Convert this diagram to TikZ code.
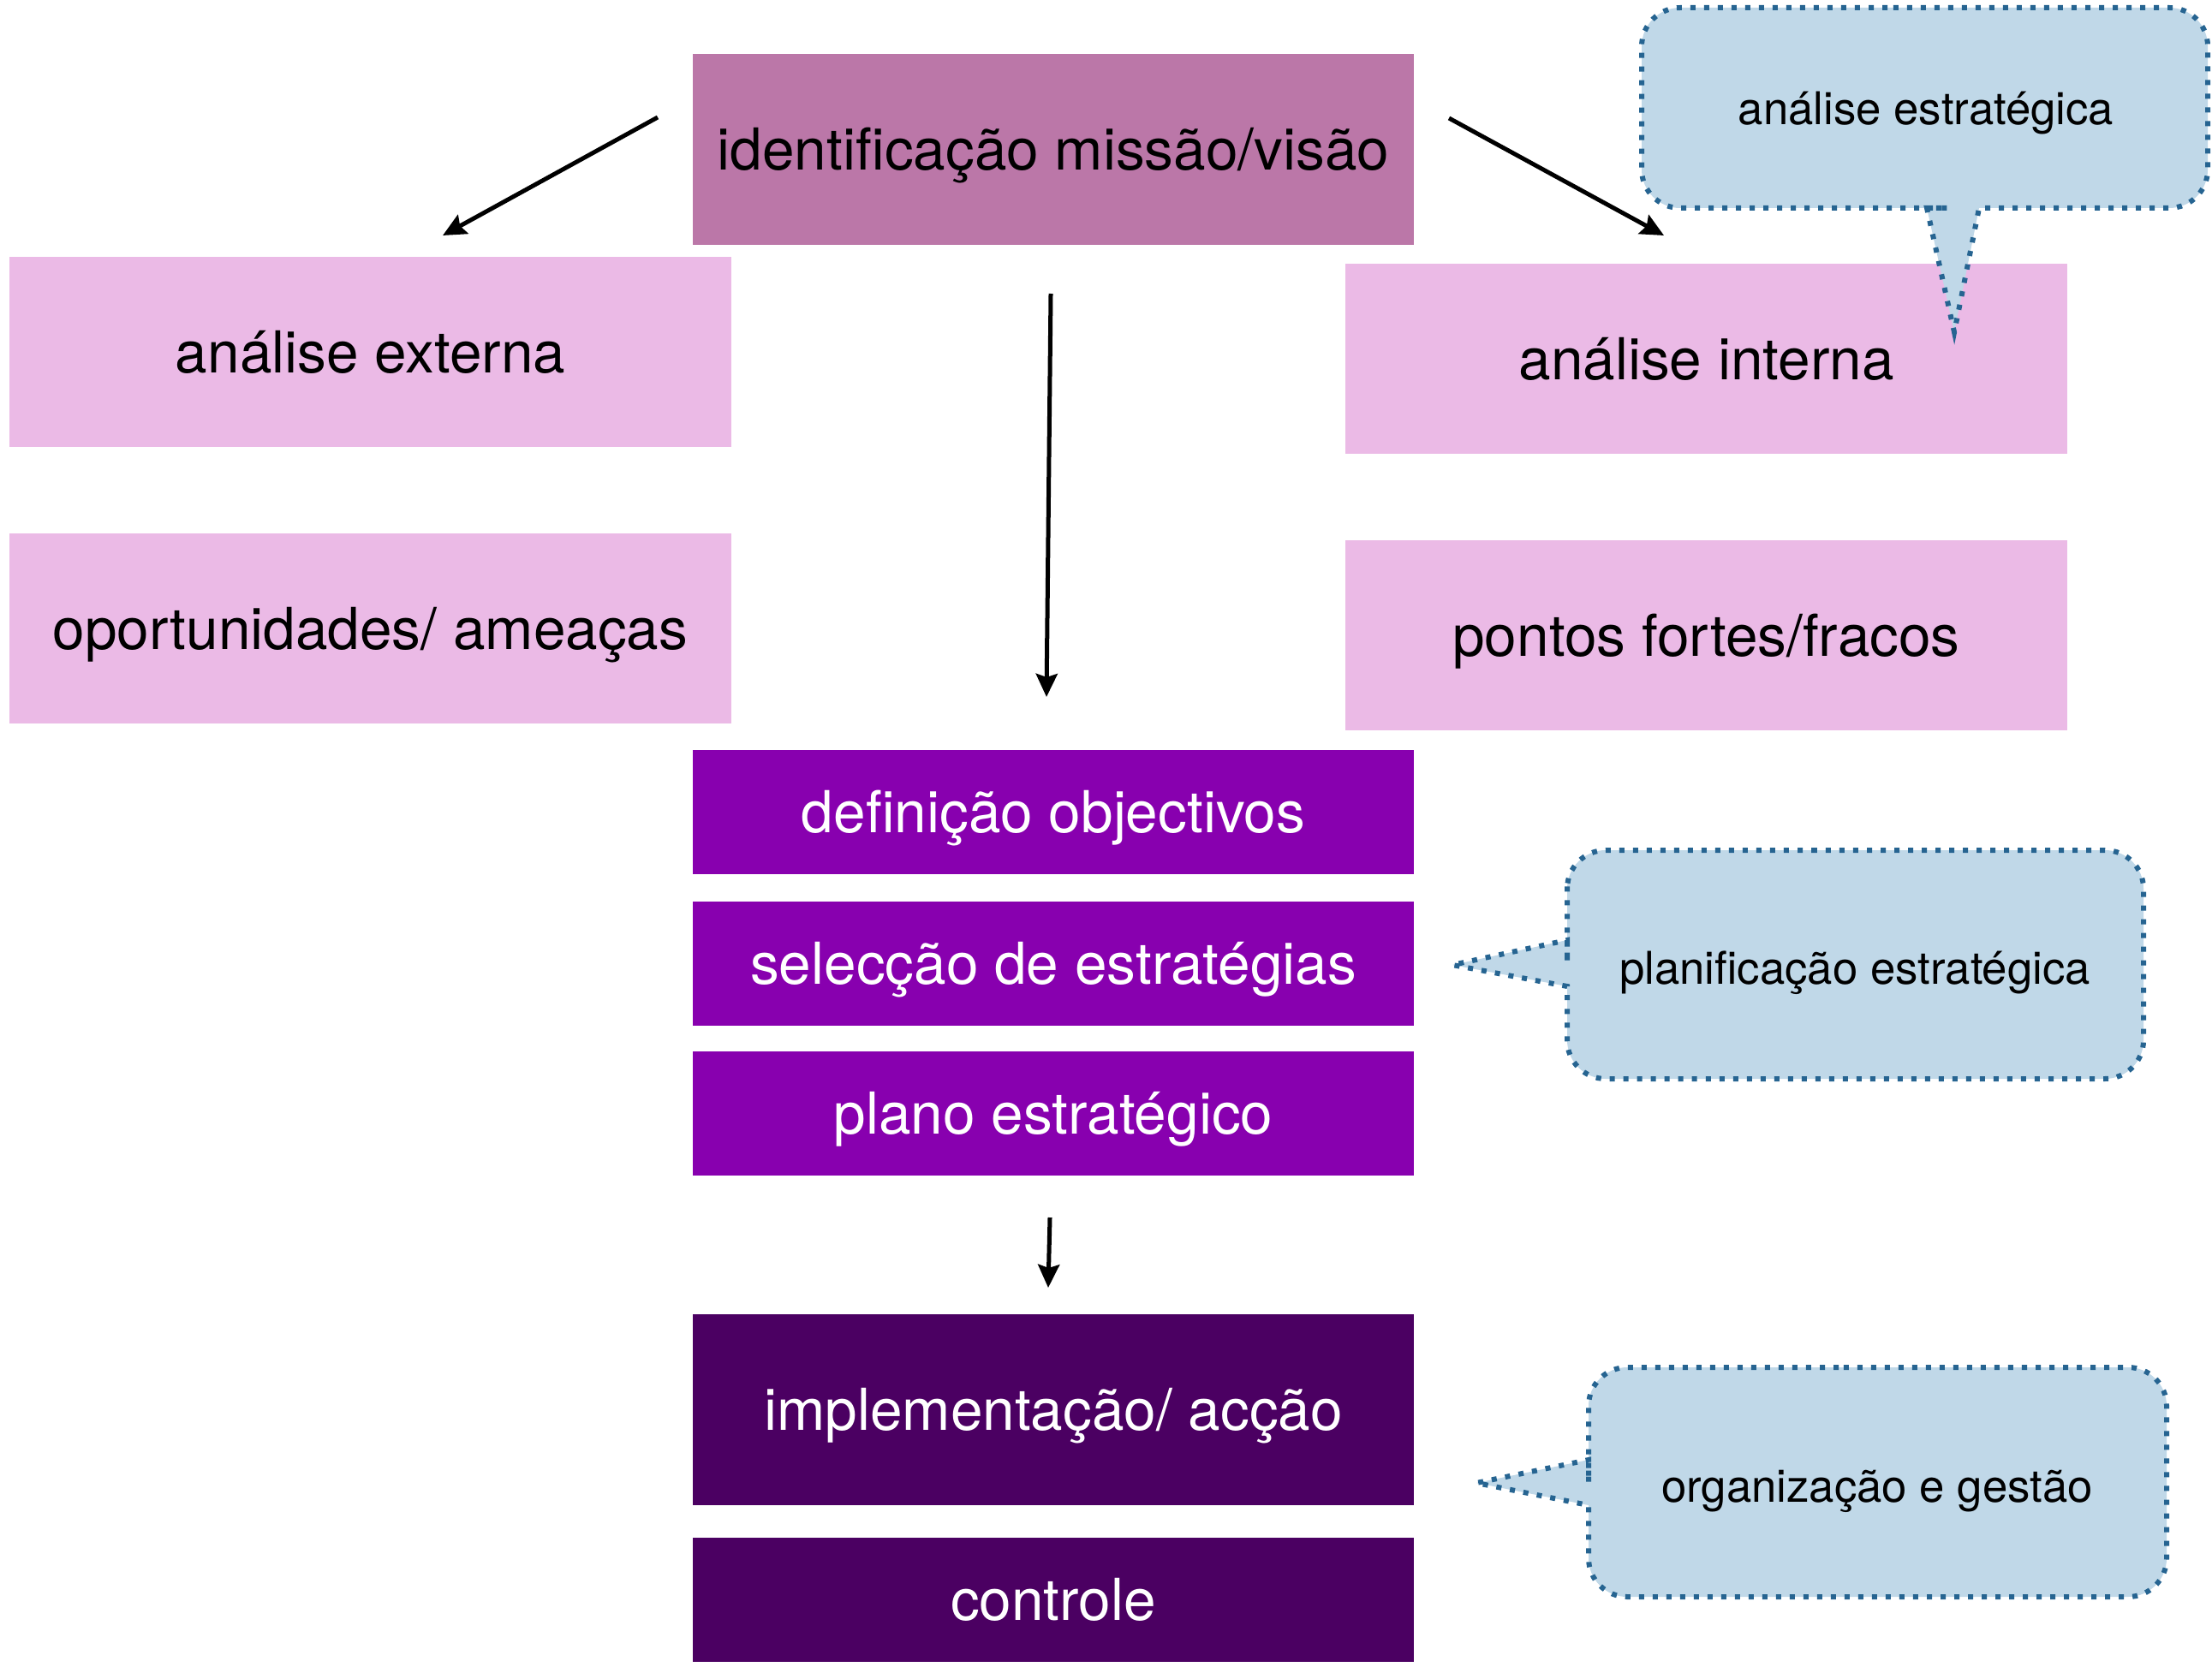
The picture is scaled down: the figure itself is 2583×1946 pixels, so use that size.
\documentclass[tikz,border=0pt]{standalone}
\usepackage{fontspec}
\setmainfont{TeX Gyre Heros}
\usetikzlibrary{arrows.meta}
\definecolor{mvcol}{RGB}{187,119,168}
\definecolor{lightpink}{RGB}{235,186,230}
\definecolor{midpurple}{RGB}{136,0,175}
\definecolor{darkpurple}{RGB}{75,0,98}
\definecolor{calloutfill}{RGB}{192,216,232}
\definecolor{calloutline}{RGB}{38,100,145}
\tikzset{
  box/.style={inner sep=0pt, minimum width=8.42cm, font=\fontsize{19.2}{23}\selectfont, text height=0.48cm, text depth=0pt},
  bigbox/.style={box, minimum height=2.22cm},
  smallbox/.style={box, minimum height=1.45cm},
  callout/.style={fill=calloutfill, draw=calloutline, line width=0.06cm, dash pattern=on 0.06cm off 0.10cm},
  callouttext/.style={font=\fontsize{15}{18}\selectfont, inner sep=0pt, text height=0.38cm, text depth=0pt},
  arr/.style={line width=0.05cm, -{Stealth[length=0.27cm,width=0.25cm,inset=0.04cm]}}
}
\begin{document}
\begin{tikzpicture}[x=0.01cm,y=-0.01cm]
\useasboundingbox[fill=white] (0,0) rectangle (2583,1946);

% boxes
\node[bigbox, fill=mvcol] (mv) at (1230,174.5) {identificação missão/visão};
\node[bigbox, fill=lightpink] (ext) at (432.5,411) {análise externa};
\node[bigbox, fill=lightpink] (opp) at (432.5,734) {oportunidades/ ameaças};
\node[bigbox, fill=lightpink] (int) at (1992.5,419) {análise interna};
\node[bigbox, fill=lightpink] (pf) at (1992.5,742) {pontos fortes/fracos};
\node[smallbox, fill=midpurple, text=white] (def) at (1230,948.5) {definição objectivos};
\node[smallbox, fill=midpurple, text=white] (sel) at (1230,1125.5) {selecção de estratégias};
\node[smallbox, fill=midpurple, text=white] (pla) at (1230,1300.5) {plano estratégico};
\node[bigbox, fill=darkpurple, text=white] (imp) at (1230,1646.5) {implementação/ acção};
\node[smallbox, fill=darkpurple, text=white] (ctl) at (1230,1868.5) {controle};

% arrow end points
\coordinate (a1s) at (768,137);
\coordinate (a1e) at (517,275);
\coordinate (a2s) at (1692,138);
\coordinate (a2e) at (1943,275);
\coordinate (a3s) at (1227,343);
\coordinate (a3e) at (1222,814);
\coordinate (a4s) at (1226,1422);
\coordinate (a4e) at (1224,1504);
\draw[arr] (a1s) -- (a1e);
\draw[arr] (a2s) -- (a2e);
\draw[arr] (a3s) -- (a3e);
\draw[arr] (a4s) -- (a4e);

% callout: análise estratégica
\draw[callout] (2249,9) [rounded corners=0.45cm] -- (1917,9) -- (1917,243) -- (2230,243)
  [sharp corners] -- (2250,243) -- (2282,388) -- (2311,243) -- (2330,243)
  [rounded corners=0.45cm] -- (2578,243) -- (2578,9) -- cycle;
\node[callouttext] (ae) at (2249,126) {análise estratégica};

% callout: planificação estratégica
\draw[callout] (2166,993) [rounded corners=0.45cm] -- (1830,993) -- (1830,1080)
  [sharp corners] -- (1830,1098) -- (1696,1127) -- (1830,1152) -- (1830,1170)
  [rounded corners=0.45cm] -- (1830,1260) -- (2503,1260) -- (2503,993) -- cycle;
\node[callouttext] (pe) at (2166,1130) {planificação estratégica};

% callout: organização e gestão
\draw[callout] (2192,1597) [rounded corners=0.45cm] -- (1855,1597) -- (1855,1687)
  [sharp corners] -- (1855,1705) -- (1724,1732) -- (1855,1758) -- (1855,1776)
  [rounded corners=0.45cm] -- (1855,1865) -- (2530,1865) -- (2530,1597) -- cycle;
\node[callouttext] (og) at (2192,1735) {organização e gestão};
\end{tikzpicture}
\end{document}
